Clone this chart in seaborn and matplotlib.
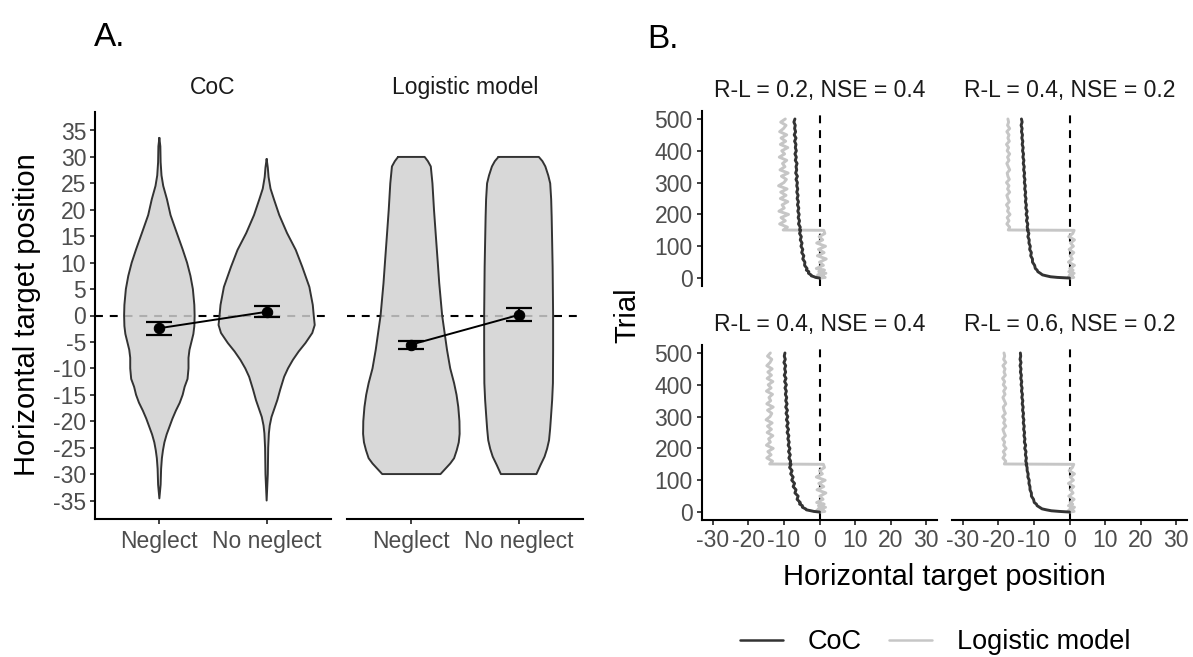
import numpy as np
import pandas as pd
import matplotlib
matplotlib.use("Agg")
import matplotlib.pyplot as plt
from matplotlib.lines import Line2D
import seaborn as sns

# ---------------- data: panel A (violins + means) ----------------
conditions = ["Neglect", "No neglect"]
models = ["CoC", "Logistic model"]

# violin outlines: y level and relative density (half-width)
coc_neglect_y = [33.6, 32, 29, 26.5, 24.5, 22, 19, 15.6, 12.5, 10, 7.5, 5, 2, 0, -2, -3.5,
                 -5, -6.5, -8, -10, -12, -13.5, -15, -16.5, -18, -19.5, -21, -22.5, -24,
                 -25.5, -27, -29, -32, -34.6]
coc_neglect_d = [0, 1.0, 1.3, 2.2, 4.0, 7.8, 11.5, 18, 24, 28.5, 32, 34.5, 36, 36.3, 36, 35,
                 33, 31, 30, 30, 29, 26, 24, 21, 17, 13.5, 10.5, 7.5, 5.2, 3.7, 2.6, 1.8, 1.3, 0]

coc_noneglect_y = [29.6, 28, 26.2, 24, 22, 19, 15.6, 12.4, 9.2, 5.4, 2, 0, -1.8, -3.3, -5.2,
                   -6.8, -8.4, -10, -11.6, -14, -16, -17.6, -19.2, -20.8, -22.3, -25, -30, -35]
coc_noneglect_d = [0, 1.2, 2.0, 4.0, 7.5, 13, 21, 30, 36.7, 44, 47.5, 48.5, 49.5, 47, 40,
                   33, 27, 22, 18, 14, 11, 8, 5, 3.2, 2.3, 1.6, 1.2, 0]

logit_neglect_y = [30, 29.2, 28.2, 25, 20, 15.6, 10, 6.1, 0, -6.5, -10, -12.8, -15, -17.3,
                   -20, -22.4, -24, -25.5, -27, -28, -29, -30]
logit_neglect_d = [13.7, 17, 20, 21.7, 23.3, 25, 27.2, 28.7, 31.7, 36.7, 40, 44, 46.5, 48.3,
                   49.5, 49.7, 48.8, 46.7, 44, 40, 35, 30]

logit_noneglect_y = [30, 29.2, 28.2, 26.5, 25, 22, 18.7, 9.2, 0, -6.5, -12.8, -16, -19.2,
                     -21.5, -23.6, -25.2, -26.7, -28.3, -30]
logit_noneglect_d = [20.8, 24.5, 27.5, 30.5, 32.5, 33.5, 34, 35, 35.5, 35.5, 35.3, 34.5, 33.3,
                     32.4, 31.3, 29.3, 26.7, 22.5, 18.3]

coc_mean = [-2.4, 0.7]
coc_low = [-3.6, -0.2]
coc_high = [-1.2, 1.8]
logit_mean = [-5.5, 0.1]
logit_low = [-6.3, -1.0]
logit_high = [-4.8, 1.4]

a_ticks = [35, 30, 25, 20, 15, 10, 5, 0, -5, -10, -15, -20, -25, -30, -35]

# ---------------- data: panel B (trial-by-trial target position) ----------------
trials = [0, 2, 4, 7, 10, 15, 20, 25, 30] + list(range(40, 151, 10)) + [151] + list(range(160, 501, 10))

facet_titles = ["R-L = 0.2, NSE = 0.4", "R-L = 0.4, NSE = 0.2",
                "R-L = 0.4, NSE = 0.4", "R-L = 0.6, NSE = 0.2"]

coc_tl = [0.0, -1.1, -1.5, -2.3, -2.4, -3.1, -3.0, -3.7, -3.5, -4.2, -4.1, -4.7, -4.4, -5.0,
          -4.7, -5.2, -4.9, -5.4, -5.1, -5.6, -5.3, -5.6,
          -5.4, -5.9, -5.6, -6.0, -5.7, -6.1, -5.8, -6.2, -5.9, -6.3, -6.0, -6.4, -6.1, -6.4,
          -6.2, -6.6, -6.2, -6.7, -6.4, -6.6, -6.3, -6.8, -6.5, -6.9, -6.5, -6.8, -6.6, -7.0,
          -6.6, -7.1, -6.7, -7.0, -6.8, -7.2, -6.9]
coc_tr = [0.0, -3.4, -5.3, -6.5, -7.6, -8.2, -8.9, -9.1, -9.6, -9.8, -10.4, -10.4, -10.9,
          -10.7, -11.2, -11.0, -11.4, -11.3, -11.7, -11.4, -11.8, -11.6,
          -11.9, -11.7, -12.1, -11.8, -12.2, -11.9, -12.3, -12.1, -12.4, -12.2, -12.5, -12.3,
          -12.6, -12.4, -12.7, -12.5, -12.8, -12.6, -12.9, -12.7, -13.0, -12.8, -13.1, -12.9,
          -13.2, -13.0, -13.3, -13.1, -13.4, -13.2, -13.5, -13.3, -13.6, -13.3, -13.5]
coc_bl = [0.0, -1.6, -2.4, -3.7, -3.9, -4.8, -4.8, -5.6, -5.4, -6.3, -6.0, -6.9, -6.6, -7.4,
          -7.0, -7.8, -7.4, -8.1, -7.7, -8.4, -8.0, -8.3,
          -8.1, -8.6, -8.2, -8.7, -8.3, -8.8, -8.5, -8.9, -8.6, -9.1, -8.7, -9.2, -8.8, -9.3,
          -8.9, -9.4, -9.0, -9.5, -9.1, -9.5, -9.2, -9.6, -9.3, -9.7, -9.3, -9.8, -9.4, -9.9,
          -9.5, -9.8, -9.5, -10.0, -9.6, -9.9, -9.7]
coc_br = [0.0, -2.9, -5.1, -6.5, -7.7, -8.4, -9.1, -9.3, -9.9, -10.1, -10.7, -10.7, -11.1,
          -11.1, -11.4, -11.3, -11.7, -11.6, -11.9, -11.9, -12.2, -12.0,
          -12.3, -12.1, -12.4, -12.2, -12.6, -12.3, -12.7, -12.5, -12.8, -12.6, -12.9, -12.7,
          -13.0, -12.8, -13.1, -12.9, -13.2, -13.0, -13.3, -13.1, -13.4, -13.2, -13.5, -13.3,
          -13.6, -13.4, -13.7, -13.5, -13.8, -13.6, -13.9, -13.6, -13.9, -13.7, -13.8]

logit_tl = [0.3, 1.6, -0.8, 1.2, -0.5, 1.8, -0.2, 1.4, -0.9, 1.1, 0.0, 1.9, -0.6, 1.3, -0.3,
            1.7, -0.8, 0.9, -0.1, 1.5, 1.2, -10.2,
            -9.0, -11.2, -9.6, -10.8, -8.7, -11.4, -9.9, -10.5, -8.9, -11.0, -9.4, -10.9, -9.1,
            -11.5, -10.0, -9.3, -10.7, -8.8, -11.1, -9.7, -10.4, -9.2, -11.3, -9.8, -10.6, -8.9,
            -11.0, -9.5, -10.8, -9.2, -11.2, -10.1, -9.4, -10.9, -9.6]
logit_tr = [0.2, 1.2, -0.3, 0.9, 0.0, 1.3, -0.2, 1.0, 0.1, 1.4, -0.3, 0.8, 0.2, 1.2, -0.1,
            1.1, 0.3, 1.4, -0.2, 0.9, 1.3, -17.2,
            -16.8, -17.6, -17.0, -17.5, -16.7, -17.4, -17.1, -17.7, -16.9, -17.3, -17.6, -16.8,
            -17.4, -17.0, -17.7, -16.9, -17.3, -17.5, -16.8, -17.2, -17.6, -17.0, -17.4, -16.8,
            -17.5, -17.1, -17.7, -16.9, -17.3, -17.0, -17.6, -16.8, -17.4, -17.1, -17.3]
logit_bl = [0.2, 1.5, -0.9, 1.1, -0.4, 1.7, -0.3, 1.3, -0.8, 1.0, 0.1, 1.8, -0.7, 1.2, -0.2,
            1.6, -0.9, 0.8, 0.0, 1.4, 1.1, -14.0,
            -13.2, -14.8, -13.6, -14.5, -13.0, -14.9, -13.8, -14.3, -13.1, -14.7, -13.5, -14.6,
            -13.3, -15.0, -13.9, -13.4, -14.6, -13.0, -14.8, -13.7, -14.2, -13.2, -14.9, -13.6,
            -14.4, -13.1, -14.7, -13.5, -14.5, -13.3, -14.8, -13.9, -13.4, -14.6, -13.8]
logit_br = [0.1, 1.3, -0.4, 1.0, 0.1, 1.4, -0.3, 0.9, 0.2, 1.3, -0.2, 1.0, 0.3, 1.2, -0.3,
            1.1, 0.2, 1.4, -0.1, 0.8, 1.2, -18.3,
            -17.9, -18.7, -18.1, -18.6, -17.8, -18.5, -18.2, -18.8, -18.0, -18.4, -18.7, -17.9,
            -18.5, -18.1, -18.8, -18.0, -18.4, -18.6, -17.9, -18.3, -18.7, -18.1, -18.5, -17.9,
            -18.6, -18.2, -18.8, -18.0, -18.4, -18.1, -18.7, -17.9, -18.5, -18.2, -18.4]

b_xticks = [-30, -20, -10, 0, 10, 20, 30]
b_yticks = [0, 100, 200, 300, 400, 500]

# ---------------- style ----------------
sns.set_style("ticks")
plt.rcParams["font.family"] = ["Liberation Sans", "DejaVu Sans"]
plt.rcParams["axes.unicode_minus"] = False

W, H = 1193, 657
fig = plt.figure(figsize=(W / 100, H / 100), dpi=100)

DARK = "#333333"
LIGHT = "#c6c6c6"
TICK_COL = "#4d4d4d"
TICK_FS = 16.5
STRIP_FS = 16.5
TITLE_FS = 21
DASH = (0, (3.8, 3.3))


def px_axes(x0, y0, x1, y1):
    return fig.add_axes([x0 / W, 1 - y1 / H, (x1 - x0) / W, (y1 - y0) / H])


def style_axis(ax, left, bottom):
    for side in ["top", "right"]:
        ax.spines[side].set_visible(False)
    ax.spines["left"].set_visible(left)
    ax.spines["bottom"].set_visible(bottom)
    for side in ["left", "bottom"]:
        ax.spines[side].set_linewidth(1.5)
        ax.spines[side].set_color("black")
    ax.tick_params(axis="both", colors=DARK, labelcolor=TICK_COL, labelsize=TICK_FS,
                   width=1.3, length=3.8, pad=3)
    if not left:
        ax.tick_params(axis="y", left=False, labelleft=False)
    if not bottom:
        ax.tick_params(axis="x", bottom=False, labelbottom=False)
    ax.set_facecolor("none")
    ax.set_xlabel("")
    ax.set_ylabel("")


def strip(ax, text, offset):
    ax.annotate(text, xy=(0.5, 1), xycoords="axes fraction", xytext=(0, offset),
                textcoords="offset points", ha="center", va="center",
                fontsize=STRIP_FS, color="#1a1a1a")


# ---------------- panel A ----------------
violins = {
    "CoC": [(coc_neglect_y, coc_neglect_d), (coc_noneglect_y, coc_noneglect_d)],
    "Logistic model": [(logit_neglect_y, logit_neglect_d), (logit_noneglect_y, logit_noneglect_d)],
}
summary = {
    "CoC": (coc_mean, coc_low, coc_high),
    "Logistic model": (logit_mean, logit_low, logit_high),
}
max_d = max(max(d) for pairs in violins.values() for _, d in pairs)
scale = 0.45 / max_d

a_axes = [px_axes(95, 112, 331, 519), px_axes(347, 112, 583, 519)]
for i, (ax, model) in enumerate(zip(a_axes, models)):
    ax.set_xlim(-0.6, 1.6)
    ax.set_ylim(-38.5, 38.5)
    ax.axhline(0, color="black", lw=1.5, ls=DASH, zorder=1)
    for pos, (ys, dens) in enumerate(violins[model]):
        ys = np.asarray(ys, float)
        w = np.asarray(dens, float) * scale
        ax.fill_betweenx(ys, pos - w, pos + w, facecolor=(0.82, 0.82, 0.82),
                         alpha=0.84, edgecolor="none", zorder=2)
        xs = np.concatenate([pos - w, (pos + w)[::-1], [pos - w[0]]])
        yy = np.concatenate([ys, ys[::-1], [ys[0]]])
        ax.plot(xs, yy, color=DARK, lw=1.4, zorder=3, solid_joinstyle="round")
    m, lo, hi = summary[model]
    m = np.asarray(m)
    ax.errorbar([0, 1], m, yerr=[m - np.asarray(lo), np.asarray(hi) - m], fmt="none",
                ecolor="black", elinewidth=1.6, capsize=9.5, capthick=1.6, zorder=4)
    sns.lineplot(x=[0, 1], y=m, ax=ax, color="black", lw=1.4, marker="o",
                 markersize=7.5, markeredgecolor="black", zorder=5)
    ax.set_xticks([0, 1])
    ax.set_xticklabels(conditions)
    ax.set_yticks(a_ticks)
    ax.set_yticklabels([str(t) for t in a_ticks])
    style_axis(ax, left=(i == 0), bottom=True)
    ax.tick_params(axis="y", pad=2.5)
    ax.tick_params(axis="x", pad=4)
    strip(ax, model, 17.3)

fig.text(27 / W, 1 - 315 / H, "Horizontal target position", rotation=90,
         ha="center", va="center", fontsize=TITLE_FS, color="black")
fig.text(94 / W, 1 - 38 / H, "A.", ha="left", va="center", fontsize=24, color="black")

# ---------------- panel B ----------------
coc_series = [coc_tl, coc_tr, coc_bl, coc_br]
logit_series = [logit_tl, logit_tr, logit_bl, logit_br]
frames = []
for k, title in enumerate(facet_titles):
    frames.append(pd.DataFrame({"facet": title, "model": "CoC", "trial": trials,
                                "position": coc_series[k]}))
    frames.append(pd.DataFrame({"facet": title, "model": "Logistic model", "trial": trials,
                                "position": logit_series[k]}))
traj = pd.concat(frames, ignore_index=True)

b_boxes = [(702, 111, 937, 286), (952, 111, 1187, 286),
           (702, 345, 937, 520), (952, 345, 1187, 520)]
palette = {"CoC": DARK, "Logistic model": LIGHT}
for k, (title, box) in enumerate(zip(facet_titles, b_boxes)):
    ax = px_axes(*box)
    ax.set_xlim(-33, 33)
    ax.set_ylim(-25, 525)
    ax.axvline(0, color="black", lw=1.5, ls=DASH, zorder=1)
    sub = traj[traj["facet"] == title]
    sns.lineplot(data=sub, x="position", y="trial", hue="model",
                 hue_order=["Logistic model", "CoC"], palette=palette,
                 sort=False, estimator=None, legend=False, lw=2.1, ax=ax, zorder=2)
    ax.set_xticks(b_xticks)
    ax.set_xticklabels([str(t) for t in b_xticks])
    ax.set_yticks(b_yticks)
    ax.set_yticklabels([str(t) for t in b_yticks])
    style_axis(ax, left=(k % 2 == 0), bottom=(k >= 2))
    strip(ax, title, 15)

fig.text(627 / W, 1 - 315 / H, "Trial", rotation=90, ha="center", va="center",
         fontsize=TITLE_FS, color="black")
fig.text(944 / W, 1 - 577 / H, "Horizontal target position", ha="center", va="center",
         fontsize=TITLE_FS, color="black")
fig.text(647 / W, 1 - 40 / H, "B.", ha="left", va="center", fontsize=24, color="black")

handles = [Line2D([], [], color=DARK, lw=1.8), Line2D([], [], color=LIGHT, lw=1.8)]
fig.legend(handles, models, loc="center", bbox_to_anchor=(935 / W, 1 - 642 / H),
           ncol=2, frameon=False, fontsize=19.5, handlelength=1.6, handletextpad=0.9,
           columnspacing=1.0, labelcolor="black")

fig.savefig("out.png", dpi=100, facecolor="white")
